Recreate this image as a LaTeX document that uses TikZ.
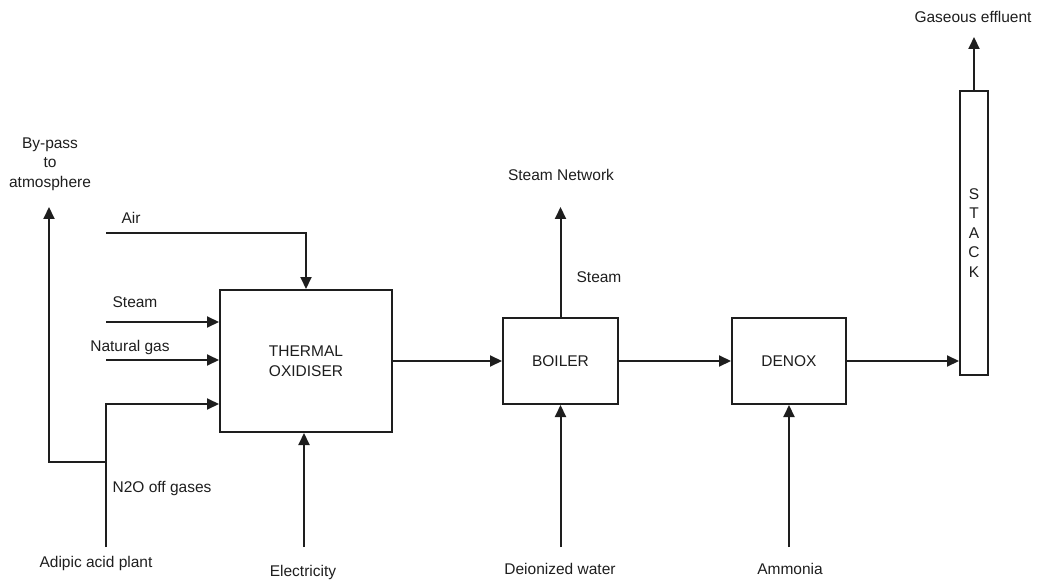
\documentclass[tikz,border=0pt]{standalone}
\usepackage{fontspec}
\setmainfont{Liberation Sans}
\usepackage{tikz}
\usetikzlibrary{positioning,arrows.meta,calc}
\definecolor{ink}{HTML}{1E1E1E}
\tikzset{
  >={Triangle[length=12pt,width=11pt]},
  every node/.style={font=\fontsize{15.5}{19.5}\selectfont, text=ink},
  % --- nodes
  unit/.style = {draw=ink, line width=2pt, fill=white, align=center, inner sep=0pt},
  lbl/.style  = {align=center, inner sep=0pt},
  % --- edges
  flow/.style = {->, line width=2pt, draw=ink},
}

\begin{document}
\begin{tikzpicture}[x=1pt,y=-1pt]
  \useasboundingbox (0,0) rectangle (1041,580);
  % --- process units
  \node[unit, minimum width=172pt, minimum height=142pt] (tox)  at (306,361)   {THERMAL\\OXIDISER};
  \node[unit, minimum width=115pt, minimum height=86pt]  (boil) at (560.5,361) {BOILER};
  \node[unit, minimum width=114pt, minimum height=86pt]  (dnx)  at (789,361)   {DENOX};
  \node[unit, minimum width=28pt,  minimum height=284pt] (stk)  at (974,233)   {S\\T\\A\\C\\K};
  % --- free ends
  \coordinate (airIn)  at (106,233);
  \coordinate (stmIn)  at (106,322);
  \coordinate (gasIn)  at (106,360);
  \coordinate (n2oIn)  at (106,547);
  \coordinate (n2oTee) at (106,404);
  \coordinate (bypTee) at (106,462);
  \coordinate (bypOut) at (49,207);
  \coordinate (elecIn) at (304,547);
  \coordinate (watIn)  at (560.5,547);
  \coordinate (nh3In)  at (789,547);
  \coordinate (stmOut) at (560.5,207);
  \coordinate (effOut) at (974,37);
  % --- labels
  \node[lbl] (lEff)  at (973,17)  {Gaseous effluent};
  \node[lbl] (lNet)  at (561,175) {Steam Network};
  \node[lbl] (lStm)  at (599,277) {Steam};
  \node[lbl] (lByp)  at (50,164)  {By-pass\\to\\atmosphere};
  \node[lbl] (lAir)  at (131,218) {Air};
  \node[lbl] (lStmI) at (135,302) {Steam};
  \node[lbl] (lGas)  at (130,347) {Natural gas};
  \node[lbl] (lN2o)  at (162,488) {N2O off gases};
  \node[lbl] (lAdp)  at (96,563)  {Adipic acid plant};
  \node[lbl] (lEl)   at (303,572) {Electricity};
  \node[lbl] (lWat)  at (560,569) {Deionized water};
  \node[lbl] (lNh3)  at (790,569) {Ammonia};
  % --- flows
  \draw[flow] (airIn) -- (airIn -| tox.north) -- (tox.north);
  \draw[flow] (stmIn) -- (stmIn -| tox.west);
  \draw[flow] (gasIn) -- (gasIn -| tox.west);
  \draw[flow] (n2oIn) -- (n2oTee) -- (n2oTee -| tox.west);
  \draw[flow] (bypTee) -- (bypTee -| bypOut) -- (bypOut);
  \draw[flow] (tox) -- (boil);
  \draw[flow] (boil) -- (dnx);
  \draw[flow] (dnx.east) -- (dnx.east -| stk.west);
  \draw[flow] (boil.north) -- (stmOut);
  \draw[flow] (stk.north) -- (effOut);
  \draw[flow] (elecIn) -- (elecIn |- tox.south);
  \draw[flow] (watIn) -- (boil.south);
  \draw[flow] (nh3In) -- (dnx.south);
\end{tikzpicture}
\end{document}
